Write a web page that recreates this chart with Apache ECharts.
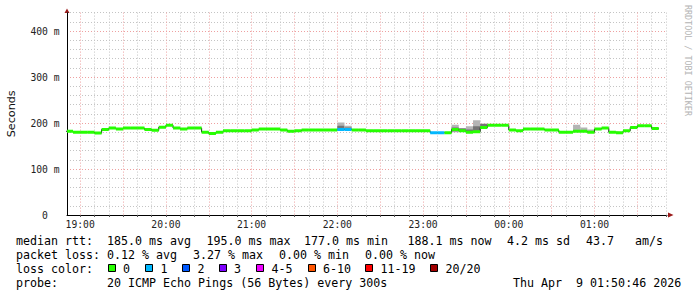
<!DOCTYPE html>
<html><head><meta charset="utf-8">
<script src="https://cdn.jsdelivr.net/npm/echarts@6/dist/echarts.min.js"></script>
<style>html,body{margin:0;padding:0;background:#fff}#c{width:697px;height:297px}</style>
</head><body><div id="c"></div>
<script>
// ---- data (5-minute slots; first slot ends 18:55, time in minutes relative to 19:00) ----
const firstSlotEnd = -5;
const slotMinutes = 5;
const medianRtt = [
  182,180,180,180,178,186,189,187,189,189,
  189,186,184,191,195,189,187,189,189,180,
  177,180,183,183,183,183,185,187,187,187,
  185,182,183,185,185,185,185,185,186,186,
  185,185,183,183,183,183,183,183,183,183,
  183,179,179,179,186,183,180,181,190,195,
  195,195,185,183,187,187,187,185,185,180,
  180,182,182,180,187,189,180,179,183,190,
  194,194,188.1
];
const lossCount = [
  0,0,0,0,0,0,0,0,0,0,
  0,0,0,0,0,0,0,0,0,0,
  0,0,0,0,0,0,0,0,0,0,
  0,0,0,0,0,0,0,0,1,1,
  0,0,0,0,0,0,0,0,0,0,
  0,1,1,0,0,0,0,0,0,0,
  0,0,0,0,0,0,0,0,0,0,
  0,0,0,0,0,0,0,0,0,0,
  0,0,0
];
const smokeSlots    = [38, 39, 54, 55, 56, 57, 58, 71, 72, 73];
const smokeLow      = [186,186,180,182,179,181,189,182,183,182];
const smokeHigh     = [201,194,196,189,193,206,199,196,190,186];
const smokeCoreLow  = [186,186,182,183,180,183,191,null,null,null];
const smokeCoreHigh = [194,190,190,188,186,193,198,null,null,null];

const xMin = -(9 + 14/60);           // 18:50:46
const xMax = xMin + 420;             // 01:50:46
const xLabelValues = [0,60,120,180,240,300,360];
const xTickLabels = ['19:00','20:00','21:00','22:00','23:00','00:00','01:00'];
const yLabelValues = [0,100,200,300,400];
const yTickLabels = ['0','100 m','200 m','300 m','400 m'];
const lossLevels = [0,1,2,3,4,6,11,20];
const lossLabels = ['0','1','2','3','4-5','6-10','11-19','20/20'];
const lossColors = ['#26ff00','#00b8ff','#0059ff','#7e00ff','#ee00ff','#ff5500','#ff0000','#a10000'];

// ---- build ----
function lossColor(l){ let c = lossColors[0]; for (let i=0;i<lossLevels.length;i++) if (l >= lossLevels[i]) c = lossColors[i]; return c; }
const slotStart = i => firstSlotEnd + slotMinutes*(i-1);
const slotEnd = i => firstSlotEnd + slotMinutes*i;
const segData = medianRtt.map((v,i)=>[slotStart(i), slotEnd(i), v, lossCount[i]]);
const stepData = [[slotStart(0), medianRtt[0]]].concat(medianRtt.map((v,i)=>[slotEnd(i), v]));
const smokeData = smokeSlots.map((k,j)=>[slotStart(k), slotEnd(k), smokeLow[j], smokeHigh[j],
   smokeCoreLow[j]==null?NaN:smokeCoreLow[j], smokeCoreHigh[j]==null?NaN:smokeCoreHigh[j]]);
const gridX = []; for (let m=0; m<=xMax; m+=10) gridX.push(m);

const mono = '"DejaVu Sans Mono", monospace';
const F = '11.65px ' + mono;
function T(x,y,text,extra){ return Object.assign({type:'text', x:x, y:y, silent:true,
  style:{text:text, font:F, fill:'#000', align:'left', verticalAlign:'middle'}}, extra||{}); }

const graphics = [
  T(16,240.7,'median rtt:'), T(107,240.7,'185.0 ms avg'), T(206.5,240.7,'195.0 ms max'),
  T(304,240.7,'177.0 ms min'), T(407.5,240.7,'188.1 ms now'), T(507,240.7,'4.2 ms sd'),
  T(586,240.7,'43.7'), T(635,240.7,'am/s'),
  T(16,255.3,'packet loss:'), T(107,255.3,'0.12 % avg'), T(193,255.3,'3.27 % max'),
  T(279,255.3,'0.00 % min'), T(365,255.3,'0.00 % now'),
  T(16,269,'loss color:'),
  T(16,283.3,'probe:'), T(107,283.3,'20 ICMP Echo Pings (56 Bytes) every 300s'),
  T(513,283.3,'Thu Apr  9 01:50:46 2026'),
  {type:'text', x:687.5, y:5, rotation:-Math.PI/2, silent:true,
   style:{text:'RRDTOOL / TOBI OETIKER', font:'8.4px '+mono, fill:'#b4b4b4', align:'left', verticalAlign:'middle'}},
  {type:'polygon', silent:true, shape:{points:[[64.5,13],[69.5,13],[67,8.5]]}, style:{fill:'#9b1b1b'}},
  {type:'polygon', silent:true, shape:{points:[[668,212.5],[668,217.5],[673.5,215]]}, style:{fill:'#9b1b1b'}}
];
const boxX = [108.5,145.5,182.5,219.5,256.5,308.5,365.5,430.5];
const labX = [123,160.5,197.5,234,271.5,323,380.5,445.5];
lossLabels.forEach((lab,i)=>{
  graphics.push({type:'rect', silent:true, shape:{x:boxX[i], y:264.5, width:7, height:7},
    style:{fill:lossColors[i], stroke:'#000', lineWidth:1}});
  graphics.push(T(labX[i],269,lab));
});

const chart = echarts.init(document.getElementById('c'), null, {renderer:'svg'});
chart.setOption({
  animation:false,
  backgroundColor:'#fff',
  grid:{left:67, top:12.6, width:600, height:202.4, containLabel:false, outerBoundsMode:'none'},
  xAxis:{type:'value', min:xMin, max:xMax,
    axisLine:{show:true, onZero:false, lineStyle:{color:'#000', width:1}},
    axisTick:{show:true, customValues:gridX, length:2, lineStyle:{color:'#555'}},
    axisLabel:{customValues:xLabelValues, formatter:v=>xTickLabels[xLabelValues.indexOf(v)],
      fontFamily:mono, fontSize:9.7, color:'#222', margin:4},
    splitLine:{show:true, lineStyle:{color:['#eea0a0','#c4c4c4','#c4c4c4'], type:[1,2], width:1}}
  },
  yAxis:{type:'value', min:0, max:440, interval:20,
    name:'Seconds', nameLocation:'middle', nameRotate:90, nameGap:50,
    nameTextStyle:{fontFamily:'"DejaVu Sans", sans-serif', fontSize:11.2, color:'#111'},
    axisLine:{show:true, onZero:false, lineStyle:{color:'#000', width:1}},
    axisTick:{show:false},
    axisLabel:{customValues:yLabelValues, formatter:v=>yTickLabels[yLabelValues.indexOf(v)],
      fontFamily:mono, fontSize:9.7, color:'#222', align:'center', margin:22},
    splitLine:{show:true, lineStyle:{color:['#eea0a0','#c4c4c4','#c4c4c4','#c4c4c4','#c4c4c4'], type:[1,2], width:1}}
  },
  graphic:graphics,
  series:[
    {type:'custom', z:2, data:smokeData, encode:{x:[0,1], y:[2,3]}, clip:true, silent:true,
     renderItem:(params, api)=>{
       const a = api.coord([api.value(0), api.value(3)]);
       const b = api.coord([api.value(1), api.value(2)]);
       const kids = [{type:'rect', shape:{x:a[0], y:a[1], width:b[0]-a[0], height:b[1]-a[1]}, style:{fill:'#b4b4b4'}}];
       if (!isNaN(api.value(4))) {
         const c = api.coord([api.value(0), api.value(5)]);
         const d = api.coord([api.value(1), api.value(4)]);
         kids.push({type:'rect', shape:{x:c[0], y:c[1], width:d[0]-c[0], height:d[1]-c[1]}, style:{fill:'#747474'}});
       }
       return {type:'group', children:kids};
     }},
    {type:'line', z:3, step:'start', data:stepData, symbol:'none', clip:true, silent:true,
     lineStyle:{color:'#1a1a1a', width:1}},
    {type:'custom', z:4, data:segData, encode:{x:[0,1], y:2}, clip:true, silent:true,
     renderItem:(params, api)=>{
       const cs = params.coordSys;
       const a = api.coord([api.value(0), api.value(2)]);
       const b = api.coord([api.value(1), api.value(2)]);
       const x0 = Math.max(a[0], cs.x), x1 = Math.min(b[0], cs.x + cs.width);
       return {type:'rect', shape:{x:x0, y:a[1]-1.5, width:x1-x0, height:3},
         style:{fill:lossColor(api.value(3))}};
     }}
  ]
});
</script></body></html>
